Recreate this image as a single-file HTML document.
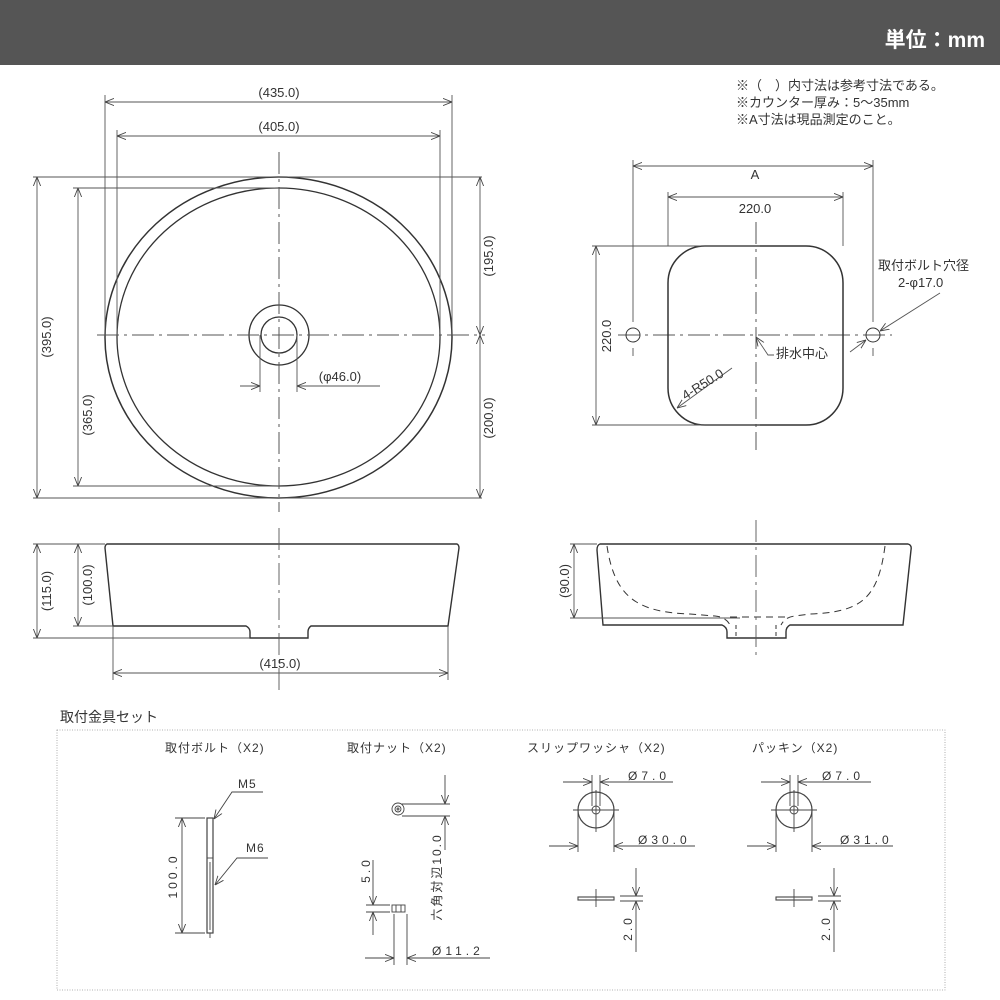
<!DOCTYPE html>
<html><head><meta charset="utf-8"><style>
html,body{margin:0;padding:0;background:#fff}
svg{display:block}
text{font-family:"Liberation Sans","Noto Sans CJK JP",sans-serif;fill:#333}
</style></head><body>
<svg width="1000" height="1000" viewBox="0 0 1000 1000" xmlns="http://www.w3.org/2000/svg">
<defs>
<marker id="a" viewBox="0 0 10 10" refX="10" refY="5" markerWidth="9" markerHeight="9" orient="auto-start-reverse" markerUnits="userSpaceOnUse"><path d="M0,1 L10,5 L0,9" fill="none" stroke="#444" stroke-width="1"/></marker>
</defs>
<rect x="0" y="0" width="1000" height="65" fill="#555"/>
<text x="985" y="47" font-size="21" font-weight="bold" text-anchor="end" style="fill:#fff">単位：mm</text>

<g stroke="#333" fill="none" stroke-width="1">
<ellipse cx="278.5" cy="337.5" rx="173.5" ry="160.5" stroke-width="1.5"/>
<ellipse cx="278.5" cy="337" rx="161.5" ry="149" stroke-width="1.3"/>
<circle cx="279" cy="335" r="30" stroke-width="1.3"/>
<circle cx="279" cy="335" r="18" stroke-width="1.3"/>
<g stroke="#555" stroke-dasharray="22,5,3,5">
<line x1="279" y1="152" x2="279" y2="512"/>
<line x1="97" y1="335" x2="485" y2="335"/>
<line x1="756" y1="222" x2="756" y2="450"/>
<line x1="618" y1="335" x2="892" y2="335"/>
</g>
<g stroke="#555" stroke-width="0.9">
<line x1="105" y1="95" x2="105" y2="335"/><line x1="452" y1="95" x2="452" y2="335"/>
<line x1="105" y1="102" x2="452" y2="102" marker-start="url(#a)" marker-end="url(#a)"/>
<line x1="117" y1="130" x2="117" y2="335"/><line x1="440" y1="130" x2="440" y2="335"/>
<line x1="117" y1="136" x2="440" y2="136" marker-start="url(#a)" marker-end="url(#a)"/>
<line x1="33" y1="177" x2="482" y2="177"/><line x1="33" y1="498" x2="482" y2="498"/>
<line x1="37" y1="177" x2="37" y2="498" marker-start="url(#a)" marker-end="url(#a)"/>
<line x1="73" y1="188" x2="279" y2="188"/><line x1="73" y1="486" x2="279" y2="486"/>
<line x1="78" y1="188" x2="78" y2="486" marker-start="url(#a)" marker-end="url(#a)"/>
<line x1="480" y1="177" x2="480" y2="335" marker-start="url(#a)" marker-end="url(#a)"/>
<line x1="480" y1="335" x2="480" y2="498" marker-start="url(#a)" marker-end="url(#a)"/>
<line x1="260" y1="335" x2="260" y2="392"/><line x1="297" y1="335" x2="297" y2="392"/>
<line x1="240" y1="386" x2="260" y2="386" marker-end="url(#a)"/>
<line x1="380" y1="386" x2="297" y2="386" marker-end="url(#a)"/>
</g>

<rect x="668" y="246" width="175" height="179" rx="37" stroke-width="1.5"/>
<circle cx="633" cy="335" r="7"/><circle cx="873" cy="335" r="7"/>
<g stroke="#555" stroke-width="0.9">
<line x1="633" y1="160" x2="633" y2="322"/><line x1="633" y1="348" x2="633" y2="356"/>
<line x1="873" y1="160" x2="873" y2="322"/><line x1="873" y1="348" x2="873" y2="356"/>
<line x1="633" y1="166" x2="873" y2="166" marker-start="url(#a)" marker-end="url(#a)"/>
<line x1="668" y1="192" x2="668" y2="246"/><line x1="843" y1="192" x2="843" y2="246"/>
<line x1="668" y1="197" x2="843" y2="197" marker-start="url(#a)" marker-end="url(#a)"/>
<line x1="592" y1="246" x2="760" y2="246"/><line x1="592" y1="425" x2="760" y2="425"/>
<line x1="596" y1="246" x2="596" y2="425" marker-start="url(#a)" marker-end="url(#a)"/>
<polyline points="774,355 768,355 756,337" marker-end="url(#a)"/>
<line x1="940" y1="293" x2="880" y2="331" marker-end="url(#a)"/>
<line x1="850" y1="352" x2="866" y2="340" marker-end="url(#a)"/>
<line x1="732" y1="368" x2="677" y2="408" marker-end="url(#a)"/>
</g>

<path d="M107,544 L457,544 Q459,545 459,548 L448,626 L311,626 Q308,628 308,632 L308,638 L250,638 L250,632 Q250,628 246,626 L113,626 L105,548 Q105,545 107,544 Z" stroke-width="1.4"/>
<g stroke="#555" stroke-width="0.9">
<line x1="279" y1="528" x2="279" y2="690" stroke-dasharray="22,5,3,5"/>
<line x1="33" y1="544" x2="105" y2="544"/><line x1="33" y1="638" x2="250" y2="638"/>
<line x1="73" y1="626" x2="113" y2="626"/>
<line x1="37" y1="544" x2="37" y2="638" marker-start="url(#a)" marker-end="url(#a)"/>
<line x1="78" y1="544" x2="78" y2="626" marker-start="url(#a)" marker-end="url(#a)"/>
<line x1="113" y1="626" x2="113" y2="680"/><line x1="448" y1="626" x2="448" y2="680"/>
<line x1="113" y1="673" x2="448" y2="673" marker-start="url(#a)" marker-end="url(#a)"/>
</g>

<path d="M600,544 L908,544 Q912,545 911,550 L903,625 L790,625 Q786,627 786,632 L786,638 L727,638 L727,632 Q727,627 722,625 L603,625 L597,550 Q597,545 600,544 Z" stroke-width="1.4"/>
<path d="M607,546 C615,600 640,612 690,614 L715,616 Q726,617 730,625 M885,546 C878,600 860,612 810,614 L795,616 Q785,617 781,625" stroke-dasharray="7,5"/>
<line x1="730" y1="617" x2="785" y2="617" stroke-dasharray="7,5"/>
<line x1="736" y1="625" x2="736" y2="638" stroke-dasharray="4,3"/><line x1="776" y1="625" x2="776" y2="638" stroke-dasharray="4,3"/>
<g stroke="#555" stroke-width="0.9">
<line x1="756" y1="520" x2="756" y2="660" stroke-dasharray="22,5,3,5"/>
<line x1="570" y1="544" x2="597" y2="544"/><line x1="570" y1="618" x2="740" y2="618"/>
<line x1="574" y1="544" x2="574" y2="618" marker-start="url(#a)" marker-end="url(#a)"/>
</g>

<rect x="57" y="730" width="888" height="260" stroke="#999" stroke-dasharray="1,1.5" stroke-width="0.8"/>
<g stroke="#444" stroke-width="0.9">
<rect x="207" y="818" width="6" height="115" stroke-width="1.2"/>
<line x1="207" y1="858" x2="213" y2="858"/><line x1="210" y1="862" x2="210" y2="930"/>
<line x1="210" y1="933" x2="210" y2="938"/>
<line x1="175" y1="818" x2="205" y2="818"/><line x1="175" y1="933" x2="205" y2="933"/>
<line x1="182" y1="818" x2="182" y2="933" marker-start="url(#a)" marker-end="url(#a)"/>
<polyline points="263,792 232,792 214,819" marker-end="url(#a)"/>
<polyline points="268,858 237,858 215,885" marker-end="url(#a)"/>
<circle cx="398" cy="809" r="6"/><circle cx="398" cy="809" r="3"/><circle cx="398" cy="809" r="1"/>
<line x1="402" y1="804" x2="450" y2="804"/><line x1="402" y1="816" x2="450" y2="816"/>
<line x1="445" y1="775" x2="445" y2="804" marker-end="url(#a)"/>
<line x1="445" y1="850" x2="445" y2="816" marker-end="url(#a)"/>
<rect x="392" y="905" width="13" height="7"/><line x1="396" y1="905" x2="396" y2="912"/><line x1="401" y1="905" x2="401" y2="912"/>
<line x1="366" y1="905" x2="390" y2="905"/><line x1="366" y1="912" x2="390" y2="912"/>
<line x1="373" y1="860" x2="373" y2="905" marker-end="url(#a)"/>
<line x1="373" y1="935" x2="373" y2="912" marker-end="url(#a)"/>
<line x1="394" y1="914" x2="394" y2="965"/><line x1="407" y1="914" x2="407" y2="965"/>
<line x1="365" y1="958" x2="394" y2="958" marker-end="url(#a)"/>
<line x1="490" y1="958" x2="407" y2="958" marker-end="url(#a)"/>
</g>
<g id="w" stroke="#444" stroke-width="0.9">
<circle cx="596" cy="810" r="18" stroke-width="1.2"/><circle cx="596" cy="810" r="4"/>
<line x1="573" y1="810" x2="619" y2="810"/><line x1="596" y1="790" x2="596" y2="832"/>
<line x1="592" y1="775" x2="592" y2="806"/><line x1="600" y1="775" x2="600" y2="806"/>
<line x1="563" y1="782" x2="592" y2="782" marker-end="url(#a)"/>
<line x1="673" y1="782" x2="600" y2="782" marker-end="url(#a)"/>
<line x1="578" y1="810" x2="578" y2="852"/><line x1="614" y1="810" x2="614" y2="852"/>
<line x1="549" y1="846" x2="578" y2="846" marker-end="url(#a)"/>
<line x1="695" y1="846" x2="614" y2="846" marker-end="url(#a)"/>
<rect x="578" y="897" width="36" height="3" stroke-width="1.1"/><line x1="596" y1="889" x2="596" y2="907"/>
<line x1="620" y1="896" x2="643" y2="896"/><line x1="620" y1="901" x2="643" y2="901"/>
<line x1="636" y1="868" x2="636" y2="896" marker-end="url(#a)"/>
<line x1="636" y1="952" x2="636" y2="901" marker-end="url(#a)"/>
</g>
<use href="#w" x="198"/>
</g>

<g font-size="13">
<text x="279" y="97" text-anchor="middle">(435.0)</text>
<text x="279" y="131" text-anchor="middle">(405.0)</text>
<text transform="translate(51,337) rotate(-90)" text-anchor="middle">(395.0)</text>
<text transform="translate(92,415) rotate(-90)" text-anchor="middle">(365.0)</text>
<text transform="translate(493,256) rotate(-90)" text-anchor="middle">(195.0)</text>
<text transform="translate(493,418) rotate(-90)" text-anchor="middle">(200.0)</text>
<text x="340" y="381" text-anchor="middle">(φ46.0)</text>
<text x="736" y="90">※（　）内寸法は参考寸法である。</text>
<text x="736" y="107">※カウンター厚み：5〜35mm</text>
<text x="736" y="124">※A寸法は現品測定のこと。</text>
<text x="755" y="179" text-anchor="middle">A</text>
<text x="755" y="213" text-anchor="middle">220.0</text>
<text transform="translate(611,336) rotate(-90)" text-anchor="middle">220.0</text>
<text x="776" y="358">排水中心</text>
<text x="878" y="270">取付ボルト穴径</text>
<text x="898" y="287">2-φ17.0</text>
<text transform="translate(705,388) rotate(-32)" text-anchor="middle">4-R50.0</text>
<text transform="translate(51,591) rotate(-90)" text-anchor="middle">(115.0)</text>
<text transform="translate(92,585) rotate(-90)" text-anchor="middle">(100.0)</text>
<text x="280" y="668" text-anchor="middle">(415.0)</text>
<text transform="translate(569,581) rotate(-90)" text-anchor="middle">(90.0)</text>
<text x="60" y="722" font-size="14">取付金具セット</text>
</g>
<g font-size="12" letter-spacing="1">
<text x="165" y="752">取付ボルト（X2)</text>
<text x="347" y="752">取付ナット（X2)</text>
<text x="527" y="752">スリップワッシャ（X2)</text>
<text x="752" y="752">パッキン（X2)</text>
<text x="238" y="788">M5</text>
<text x="246" y="852">M6</text>
<text transform="translate(177,876) rotate(-90)" text-anchor="middle" letter-spacing="3">100.0</text>
<text transform="translate(441,877) rotate(-90)" text-anchor="middle" letter-spacing="2">六角対辺10.0</text>
<text transform="translate(370,870) rotate(-90)" text-anchor="middle" letter-spacing="3">5.0</text>
<text x="432" y="955" letter-spacing="4">Ø11.2</text>
<text x="628" y="780" letter-spacing="4">Ø7.0</text>
<text x="638" y="844" letter-spacing="4">Ø30.0</text>
<text transform="translate(632,928) rotate(-90)" text-anchor="middle" letter-spacing="3">2.0</text>
<text x="822" y="780" letter-spacing="4">Ø7.0</text>
<text x="840" y="844" letter-spacing="4">Ø31.0</text>
<text transform="translate(830,928) rotate(-90)" text-anchor="middle" letter-spacing="3">2.0</text>
</g>
</svg>
</body></html>
